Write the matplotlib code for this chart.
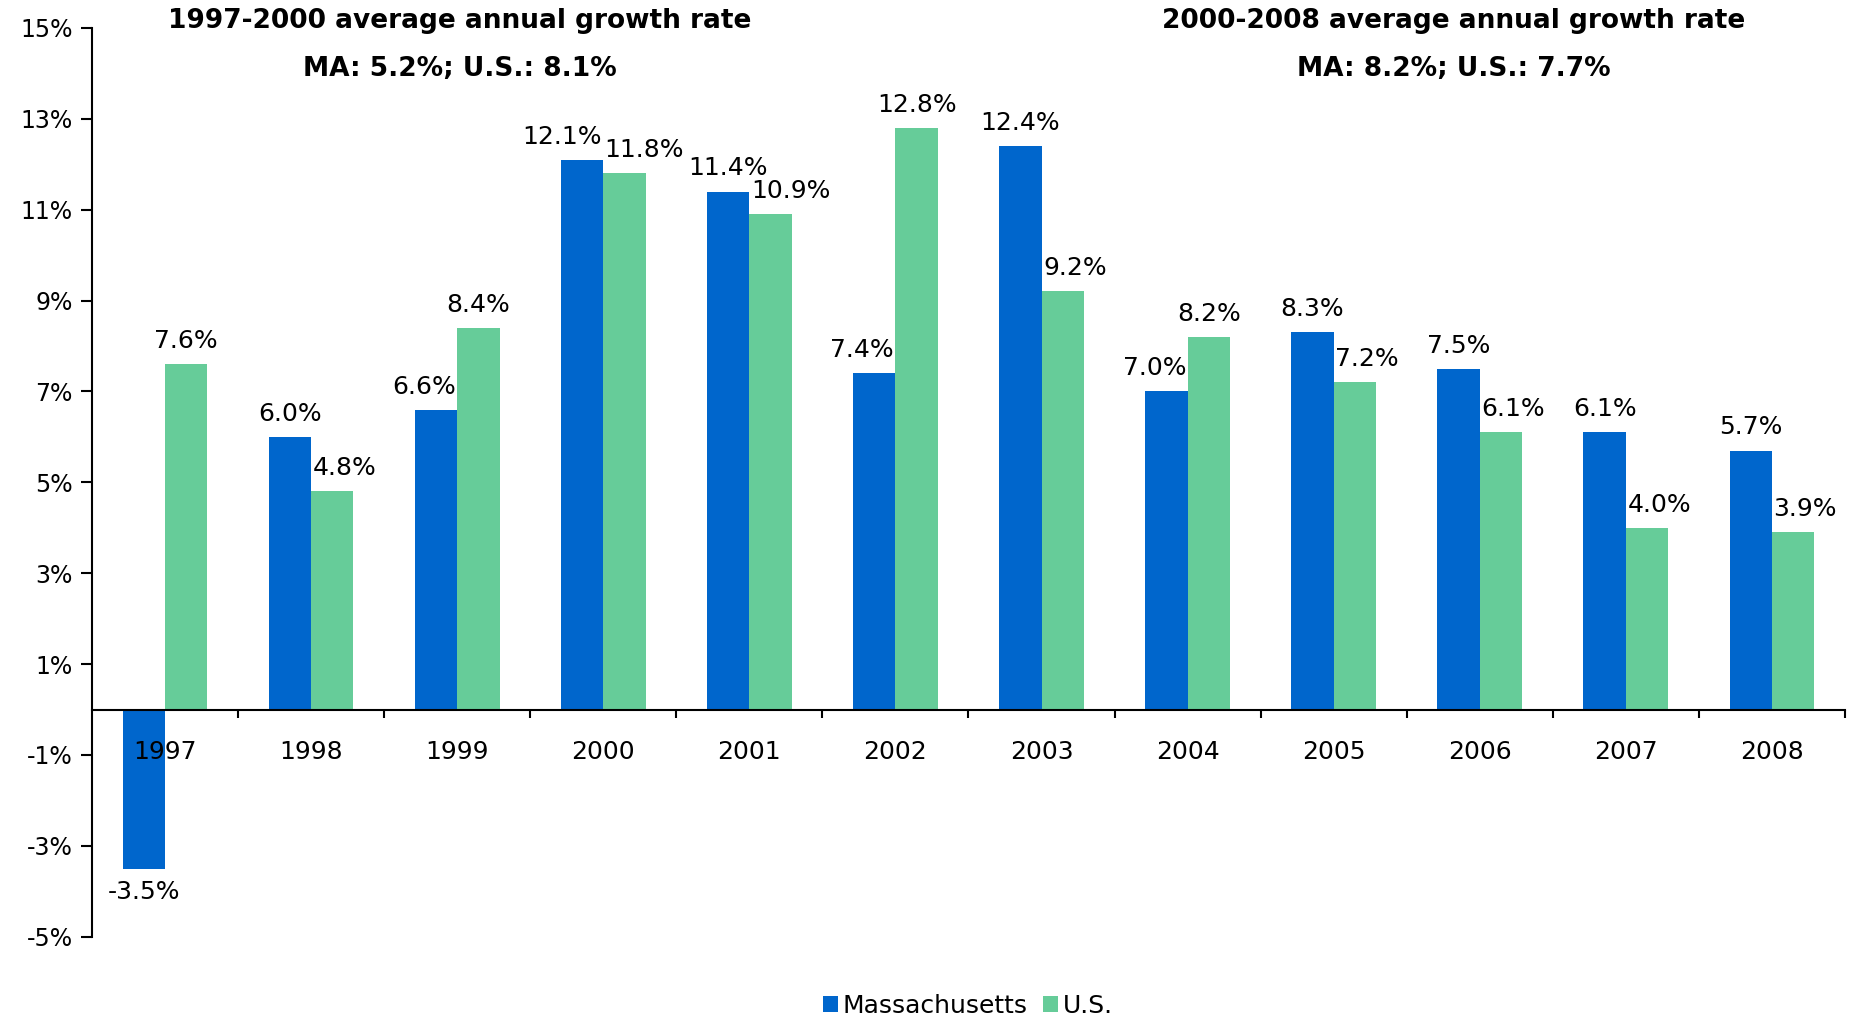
import numpy as np
import matplotlib
matplotlib.use('Agg')
import matplotlib.pyplot as plt

years = ['1997', '1998', '1999', '2000', '2001', '2002', '2003', '2004', '2005', '2006', '2007', '2008']
ma = [-3.5, 6.0, 6.6, 12.1, 11.4, 7.4, 12.4, 7.0, 8.3, 7.5, 6.1, 5.7]
us = [7.6, 4.8, 8.4, 11.8, 10.9, 12.8, 9.2, 8.2, 7.2, 6.1, 4.0, 3.9]
yticks = [-5, -3, -1, 1, 3, 5, 7, 9, 11, 13, 15]

# label placement: 'c' centred on bar, 's' pushed off to the outer side
ma_lab = ['c', 'c', 's', 's', 'c', 's', 'c', 's', 'c', 'c', 'c', 'c']
us_lab = ['c', 's', 'c', 's', 's', 'c', 's', 'c', 's', 's', 's', 's']

blue = '#0066CC'
green = '#66CC99'

plt.rcParams['font.family'] = 'DejaVu Sans'

fig = plt.figure(figsize=(18.55, 10.16), dpi=100)
ax = fig.add_axes([0.0496, 0.078, 0.945, 0.8945])

x = np.arange(len(years))
w = 0.29
b1 = ax.bar(x - w / 2, ma, w, color=blue, label='Massachusetts')
b2 = ax.bar(x + w / 2, us, w, color=green, label='U.S.')

for i in range(len(years)):
    v = ma[i]
    dy = 8 if v >= 0 else -8
    va = 'bottom' if v >= 0 else 'top'
    if ma_lab[i] == 'c':
        ax.annotate(f'{v:.1f}%', (x[i] - w / 2, v), xytext=(0, dy), textcoords='offset points',
                    ha='center', va=va, fontsize=18)
    else:
        ax.annotate(f'{v:.1f}%', (x[i], v), xytext=(-1, dy), textcoords='offset points',
                    ha='right', va=va, fontsize=18)
    v = us[i]
    if us_lab[i] == 'c':
        ax.annotate(f'{v:.1f}%', (x[i] + w / 2, v), xytext=(0, 8), textcoords='offset points',
                    ha='center', va='bottom', fontsize=18)
    else:
        ax.annotate(f'{v:.1f}%', (x[i], v), xytext=(1, 8), textcoords='offset points',
                    ha='left', va='bottom', fontsize=18)

ax.set_xlim(-0.5, 11.5)
ax.set_ylim(-5, 15)

ax.tick_params(axis='y', direction='out', length=8, width=1.5, pad=6, labelsize=17)
ax.tick_params(axis='x', which='major', direction='out', length=6, width=1.5)
ax.tick_params(axis='x', which='minor', length=0, pad=22, labelsize=18)

ax.set_yticks(yticks)
ax.set_yticklabels([f'{t}%' for t in yticks], fontsize=17)
ax.set_xticks(np.arange(0.5, 12, 1))
ax.set_xticks(x, minor=True)
ax.xaxis.set_major_formatter(plt.NullFormatter())
ax.set_xticklabels(years, minor=True, fontsize=18)

for s in ('top', 'right'):
    ax.spines[s].set_visible(False)
ax.spines['bottom'].set_position(('data', 0))
ax.spines['bottom'].set_linewidth(1.5)
ax.spines['left'].set_linewidth(1.5)

fig.text(460 / 1855, 1 - 21 / 1016, '1997-2000 average annual growth rate', ha='center', va='center',
         fontsize=19, fontweight='bold')
fig.text(460 / 1855, 1 - 69 / 1016, 'MA: 5.2%; U.S.: 8.1%', ha='center', va='center',
         fontsize=19, fontweight='bold')
fig.text(1454 / 1855, 1 - 21 / 1016, '2000-2008 average annual growth rate', ha='center', va='center',
         fontsize=19, fontweight='bold')
fig.text(1454 / 1855, 1 - 69 / 1016, 'MA: 8.2%; U.S.: 7.7%', ha='center', va='center',
         fontsize=19, fontweight='bold')

fig.legend(handles=[b1, b2], loc='center', bbox_to_anchor=(968 / 1855, 1 - 1006 / 1016), ncol=2,
           frameon=False, fontsize=18, handlelength=0.6, handleheight=0.6, handletextpad=0.2,
           columnspacing=0.6)

fig.savefig('out.png', dpi=100)
